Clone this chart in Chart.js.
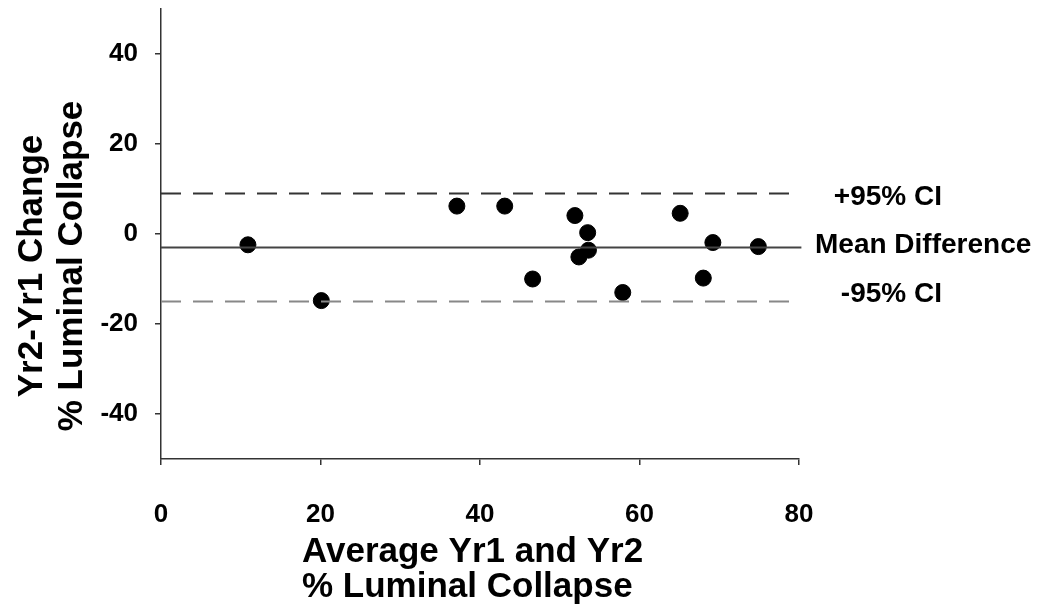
<!DOCTYPE html>
<html>
<head>
<meta charset="utf-8">
<script src="https://cdn.jsdelivr.net/npm/chart.js@4.4.1/dist/chart.umd.min.js"></script>
<style>
  html, body { margin: 0; padding: 0; background: #fff; }
  #wrap { width: 1039px; height: 612px; }
</style>
</head>
<body>
<div id="wrap"><canvas id="chart" width="1039" height="612"></canvas></div>
<script>
// data
const avgValues = [10.9, 20.1, 37.1, 43.1, 46.6, 51.9, 53.5, 53.6, 52.4, 57.9, 65.1, 68.0, 69.2, 74.9];
const diffValues = [-2.4, -14.8, 6.2, 6.2, -10.0, 4.1, 0.3, -3.6, -5.1, -13.0, 4.6, -9.8, -1.9, -2.8];
const meanDiff = -3.0;
const upperCI = 9.0;
const lowerCI = -15.0;
const xTicks = [0, 20, 40, 60, 80];
const yTicks = [-40, -20, 0, 20, 40];
const refLabels = ['+95% CI', 'Mean Difference', '-95% CI'];
const xTitle = ['Average Yr1 and Yr2', '% Luminal Collapse'];
const yTitle = ['Yr2-Yr1 Change', '% Luminal Collapse'];

const FONT = '"Liberation Sans", Arial, Helvetica, sans-serif';

const points = avgValues.map((x, i) => ({ x: x, y: diffValues[i] }));

function hLine(value, xEnd) {
    return [{ x: 0, y: value }, { x: xEnd, y: value }];
}

const textPlugin = {
    id: 'textPlugin',
    afterDraw(chart) {
        const ctx = chart.ctx;
        const ys = chart.scales.y;
        ctx.save();
        ctx.fillStyle = '#000';
        ctx.font = 'bold 28px ' + FONT;
        ctx.textBaseline = 'middle';
        // labels for the reference lines
        ctx.textAlign = 'right';
        ctx.fillText(refLabels[0], 942, ys.getPixelForValue(upperCI) + 4);
        ctx.fillText(refLabels[2], 942, ys.getPixelForValue(lowerCI) - 7);
        ctx.textAlign = 'left';
        ctx.fillText(refLabels[1], 815, ys.getPixelForValue(meanDiff) - 2);

        // axis titles
        ctx.font = 'bold 35px ' + FONT;
        ctx.textBaseline = 'alphabetic';
        ctx.textAlign = 'left';
        ctx.fillText(xTitle[0], 302, 562);
        ctx.fillText(xTitle[1], 302, 597);

        ctx.translate(0, 266);
        ctx.rotate(-Math.PI / 2);
        ctx.textAlign = 'center';
        ctx.fillText(yTitle[0], 0, 42);
        ctx.fillText(yTitle[1], 0, 82);
        ctx.restore();
    }
};

new Chart(document.getElementById('chart'), {
    type: 'scatter',
    data: {
        datasets: [
            {
                label: 'Mean',
                data: hLine(meanDiff, 80.3),
                showLine: true,
                borderColor: '#444',
                borderWidth: 2,
                pointRadius: 0
            },
            {
                label: 'Upper',
                data: hLine(upperCI, 79.3),
                showLine: true,
                borderColor: '#333',
                borderWidth: 2,
                borderDash: [20, 12],
                pointRadius: 0
            },
            {
                label: 'Lower',
                data: hLine(lowerCI, 79.3),
                showLine: true,
                borderColor: '#888',
                borderWidth: 2,
                borderDash: [20, 12],
                pointRadius: 0
            },
            {
                label: 'Diff',
                data: points,
                backgroundColor: '#000',
                borderColor: '#000',
                pointRadius: 8,
                pointHoverRadius: 8
            }
        ]
    },
    options: {
        responsive: false,
        animation: false,
        devicePixelRatio: 1,
        clip: false,
        layout: { padding: { left: 0, right: 240, top: 9, bottom: 0 } },
        plugins: {
            legend: { display: false },
            tooltip: { enabled: false }
        },
        scales: {
            x: {
                type: 'linear',
                min: 0,
                max: 80,
                afterBuildTicks: (s) => { s.ticks = xTicks.map(v => ({ value: v })); },
                afterFit: (s) => { s.height = 153; s.paddingLeft = 0; s.paddingRight = 0; },
                border: { color: '#333', width: 1.5 },
                grid: { drawOnChartArea: false, color: '#333', tickLength: 6, lineWidth: 1.5 },
                ticks: {
                    color: '#000',
                    padding: 34,
                    maxRotation: 0,
                    font: { family: FONT, size: 26, weight: 'bold' }
                }
            },
            y: {
                type: 'linear',
                min: -50,
                max: 50,
                afterBuildTicks: (s) => { s.ticks = yTicks.map(v => ({ value: v })); },
                afterFit: (s) => { s.width = 161; s.paddingTop = 0; s.paddingBottom = 0; },
                border: { color: '#333', width: 1.5 },
                grid: { drawOnChartArea: false, color: '#333', tickLength: 6, lineWidth: 1.5 },
                ticks: {
                    color: '#000',
                    padding: 17,
                    font: { family: FONT, size: 26, weight: 'bold' }
                }
            }
        }
    },
    plugins: [textPlugin]
});
</script>
</body>
</html>
